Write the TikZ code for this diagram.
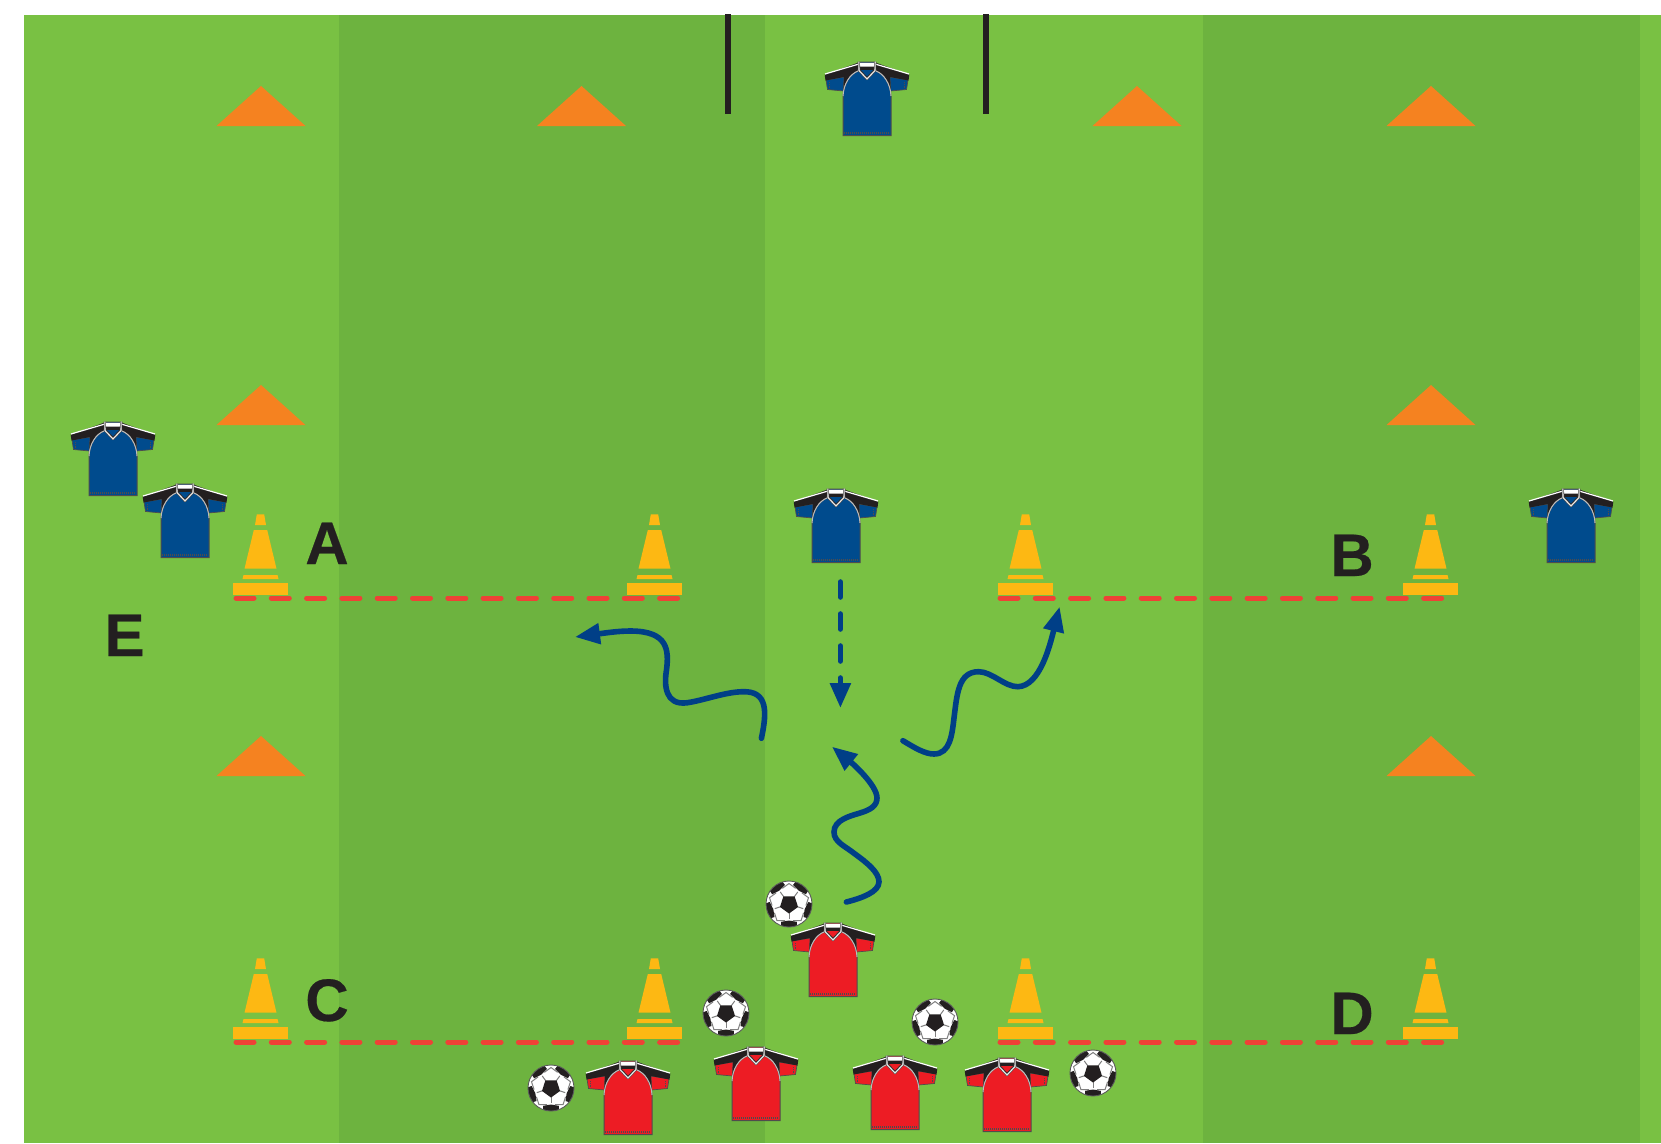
\documentclass[tikz,border=0pt]{standalone}
\usepackage{fontspec}
\setmainfont{Liberation Sans}[BoldFeatures={FakeBold=0.35}]
\usetikzlibrary{arrows.meta}
\definecolor{fieldlight}{HTML}{79C143}
\definecolor{fielddark}{HTML}{6DB33F}
\definecolor{markorange}{HTML}{F58220}
\definecolor{coneyellow}{HTML}{FDB813}
\definecolor{inkblack}{HTML}{231F20}
\definecolor{shirtblue}{HTML}{004B8D}
\definecolor{shirtred}{HTML}{ED1C24}
\definecolor{dashred}{HTML}{EF4136}
\definecolor{runblue}{HTML}{003F87}
\tikzset{
  x=1pt,y=-1pt,
  letter/.style={anchor=base,font=\fontsize{60}{60}\selectfont\bfseries,text=inkblack,inner sep=0pt},
  gridline/.style={dashred,line width=5pt,line cap=round,dash pattern=on 18pt off 17.3pt},
  runline/.style={runblue,line width=5.6pt,line cap=round,-{Triangle[length=25pt,width=20pt]}},
  passline/.style={runline,dash pattern=on 15pt off 17pt},
  post/.style={inkblack,line width=6pt},
  pics/marker/.style={code={\fill[markorange] (0,0)--(44.5,40)--(-44.5,40)--cycle;}},
  pics/trafficcone/.style={code={
    \fill[coneyellow] (-3.7,-80.7)--(3.7,-80.7)--(5.5,-70)--(-5.5,-70)--cycle;
    \fill[coneyellow] (-6.7,-65)--(6.7,-65)--(16,-26.3)--(-16,-26.3)--cycle;
    \fill[coneyellow] (-17,-20)--(17,-20)--(18,-16)--(-18,-16)--cycle;
    \fill[coneyellow] (-27.5,-12) rectangle (27.5,0);
  }},
  pics/jersey/.style={code={
    \foreach \s in {1,-1}{
      \begin{scope}[xscale=\s]
        \filldraw[fill=#1,draw=inkblack!80,line width=.7pt] (-41,18)--(-23,15)--(-23.5,29)--(-39.5,27.5)--cycle;
        \draw[inkblack!80,line width=1.6pt,dash pattern=on .8pt off 1pt] (-37.5,20)--(-37.5,26);
        \fill[inkblack] (-7,0)--(-42.3,12.7)--(-41.5,18.5)--(-23,15)--(-24,35)--(-9,9)--cycle;
      \end{scope}
    }
    \filldraw[fill=#1,draw=inkblack!80,line width=1pt]
      (-24,34) .. controls (-23.5,22) and (-17,12) .. (-9,9) -- (-7,0) -- (7,0) -- (9,9)
      .. controls (17,12) and (23.5,22) .. (24,34) -- (24,73.7) -- (-24,73.7) -- cycle;
    \draw[inkblack!80,line width=2pt,dash pattern=on 1pt off 1pt] (-23,70.5)--(23,70.5);
    \foreach \s in {1,-1}{
      \begin{scope}[xscale=\s]
        \draw[white,line width=1.2pt] (-8,2)--(-42,12);
        \draw[white!70!inkblack,line width=1pt] (-24,34) .. controls (-23.5,22) and (-17,12) .. (-9,9);
      \end{scope}
    }
    \fill[inkblack] (-7,3)--(7,3)--(7,9)--(0,16)--(-7,9)--cycle;
    \fill[#1] (-6,8)--(6,8)--(0,14.5)--cycle;
    \fill[white] (-7.5,0.8)--(7.5,0.8)--(7,4.5)--(-7,4.5)--cycle;
    \draw[inkblack!80,line width=2.2pt,line join=round] (-8.2,-.3)--(-8,8.5)--(0,17)--(8,8.5)--(8.2,-.3);
    \draw[white!90!inkblack,line width=1.1pt,line join=round] (-8.2,-.3)--(-8,8.5)--(0,17)--(8,8.5)--(8.2,-.3);
  }},
  pics/soccerball/.style={code={
    \fill[white] (0,0) circle (23);
    \begin{scope}
      \clip (0,0) circle (23);
      \foreach \a in {90,162,234,306,18}{
        \draw[black!50,line width=1pt] (\a:9)--(\a:15);
        \draw[black!50,line width=1pt] (\a+13:17)--(\a+36:20.5)--(\a+59:17);
        \fill[inkblack] (\a:16.5)--(\a+24:19.5)--(\a+17:26)--(\a-17:26)--(\a-24:19.5)--cycle;
      }
    \end{scope}
    \fill[inkblack] (90:9.5)--(162:9.5)--(234:9.5)--(306:9.5)--(18:9.5)--cycle;
    \draw[black!65,line width=.9pt] (0,0) circle (23);
  }}
}
\begin{document}
\begin{tikzpicture}
\useasboundingbox (0,0) rectangle (1661,1143);
% field
\fill[fieldlight] (24,15) rectangle (339,1143);
\fill[fielddark] (339,15) rectangle (765,1143);
\fill[fieldlight] (765,15) rectangle (1203,1143);
\fill[fielddark] (1203,15) rectangle (1640,1143);
\fill[fieldlight] (1640,15) rectangle (1661,1143);
% goal posts
\coordinate (gl1) at (728,14); \coordinate (gl2) at (728,113.5);
\coordinate (gr1) at (986,14); \coordinate (gr2) at (986,113.5);
\draw[post] (gl1)--(gl2);
\draw[post] (gr1)--(gr2);
% markers
\foreach \p in {(261,86),(581.5,86),(1137,86),(1431,86),(261,385),(1431,385),(261,736),(1431,736)}
  \pic at \p {marker};
% dashed lines
\coordinate (a1) at (236,598); \coordinate (a2) at (682,598);
\coordinate (b1) at (1000,598); \coordinate (b2) at (1446,598);
\coordinate (c1) at (236,1042); \coordinate (c2) at (682,1042);
\coordinate (d1) at (1000,1042); \coordinate (d2) at (1446,1042);
\draw[gridline] (a1)--(a2);
\draw[gridline] (b1)--(b2);
\draw[gridline] (c1)--(c2);
\draw[gridline] (d1)--(d2);
% cones
\foreach \p in {(260.5,595),(654.5,595),(1025.5,595),(1430.5,595),(260.5,1039),(654.5,1039),(1025.5,1039),(1430.5,1039)}
  \pic at \p {trafficcone};
% letters
\node[letter] (la) at (327,564) {A};
\node[letter] (lb) at (1352,576) {B};
\node[letter] (lc) at (327,1021) {C};
\node[letter] (ld) at (1352,1034) {D};
\node[letter] (le) at (124.5,656) {E};
% blue shirts
\pic at (113,422) {jersey=shirtblue};
\pic at (185,484) {jersey=shirtblue};
\pic at (867,62) {jersey=shirtblue};
\pic at (836,489) {jersey=shirtblue};
\pic at (1571,489) {jersey=shirtblue};
% red shirts
\pic at (628,1061) {jersey=shirtred};
\pic at (756,1047) {jersey=shirtred};
\pic at (895,1056) {jersey=shirtred};
\pic at (833,923) {jersey=shirtred};
\pic at (1007,1058) {jersey=shirtred};
% balls
\pic at (551,1088) {soccerball};
\pic at (726,1013) {soccerball};
\pic at (789,904) {soccerball};
\pic at (935,1022) {soccerball};
\pic at (1093,1073) {soccerball};
% arrows
\coordinate (p1) at (840.4,582); \coordinate (p2) at (840.4,708);
\coordinate (r1a) at (761.4,738.3); \coordinate (r1b) at (575,637);
\coordinate (r2a) at (902.9,740.7); \coordinate (r2b) at (1059.6,606.7);
\coordinate (r3a) at (846.4,902); \coordinate (r3b) at (832,746.7);
\draw[passline] (p1)--(p2);
\draw[runline] (r1a) .. controls (767,712) and (768,691) .. (742.9,691.7)
  .. controls (725,692) and (705,700) .. (687.5,702.7)
  .. controls (665,706) and (664,685) .. (666.5,670)
  .. controls (669,650) and (668,631) .. (630.4,631)
  .. controls (618,631) and (605,633) .. (r1b);
\draw[runline] (r2a) .. controls (915,748) and (925,754) .. (933.9,754)
  .. controls (950,754) and (952,735) .. (954,718)
  .. controls (957,695) and (958,671.7) .. (978.6,671.7)
  .. controls (992,671.7) and (1005,687) .. (1017.9,686.7)
  .. controls (1040,686) and (1050,645) .. (r2b);
\draw[runline] (r3a) .. controls (862,898) and (879,892) .. (879,881.7)
  .. controls (879,872) and (866,862) .. (855,854)
  .. controls (845,846) and (834,842) .. (834,832)
  .. controls (834,820) and (850,816) .. (860,813)
  .. controls (870,810) and (877,806) .. (877,798)
  .. controls (877,785) and (852,763) .. (r3b);
\end{tikzpicture}
\end{document}
